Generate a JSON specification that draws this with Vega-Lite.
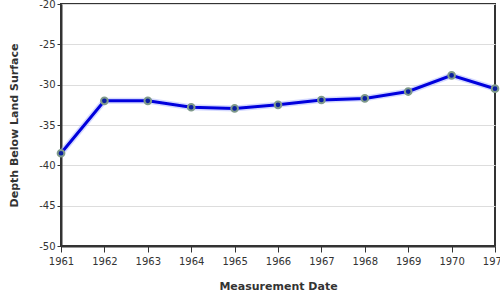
{
  "$schema": "https://vega.github.io/schema/vega-lite/v6.json",
  "autosize": "none",
  "padding": {"left": 61, "top": 4, "right": 5, "bottom": 54},
  "width": 434,
  "height": 242,
  "background": "white",
  "config": {
    "font": "DejaVu Sans",
    "view": {"stroke": "#333", "strokeWidth": 2},
    "axis": {"labelFont": "DejaVu Sans", "titleFont": "DejaVu Sans", "labelColor": "#333", "titleColor": "#333", "labelFontSize": 10, "titleFontSize": 11, "titleFontWeight": "bold", "domainColor": "#333", "domainWidth": 2, "tickColor": "#333", "gridColor": "#ddd"}
  },
  "data": {"values": [
    {"year": 1961, "depth": -38.5},
    {"year": 1962, "depth": -32.0},
    {"year": 1963, "depth": -32.0},
    {"year": 1964, "depth": -32.8},
    {"year": 1965, "depth": -32.95},
    {"year": 1966, "depth": -32.5},
    {"year": 1967, "depth": -31.9},
    {"year": 1968, "depth": -31.7},
    {"year": 1969, "depth": -30.85},
    {"year": 1970, "depth": -28.85},
    {"year": 1971, "depth": -30.5}
  ]},
  "encoding": {
    "x": {"field": "year", "type": "quantitative", "title": "Measurement Date",
      "scale": {"domain": [1961, 1971], "nice": false, "zero": false},
      "axis": {"values": [1961,1962,1963,1964,1965,1966,1967,1968,1969,1970,1971], "labelExpr": "'' + datum.value", "labelFlush": false, "labelOverlap": false, "grid": false, "tickSize": 6, "labelPadding": 4, "titlePadding": 14}},
    "y": {"field": "depth", "type": "quantitative", "title": "Depth Below Land Surface",
      "scale": {"domain": [-50, -20], "nice": false, "zero": false},
      "axis": {"values": [-50,-45,-40,-35,-30,-25,-20], "labelExpr": "'' + datum.value", "labelFlush": false, "tickSize": 4, "labelPadding": 2, "titlePadding": 19}}
  },
  "layer": [
    {"mark": {"type": "line", "color": "#aab4ff", "strokeWidth": 6, "opacity": 0.5}},
    {"mark": {"type": "line", "color": "#0000dd", "strokeWidth": 3}},
    {"mark": {"type": "point", "filled": true, "fill": "#0a1fa0", "stroke": "#7f9a8a", "strokeWidth": 2, "size": 45, "opacity": 1}}
  ]
}
